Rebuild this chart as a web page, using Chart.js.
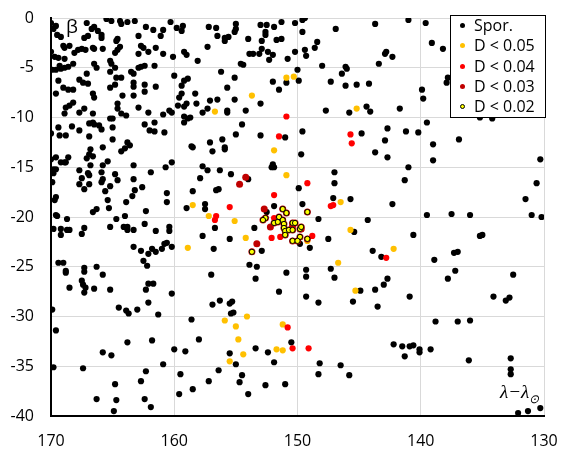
<!DOCTYPE html>
<html>
<head>
<meta charset="utf-8">
<script src="https://cdn.jsdelivr.net/npm/chart.js@4/dist/chart.umd.min.js"></script>
<style>
  html, body { margin: 0; padding: 0; background: #fff; }
  #wrap { position: relative; width: 567px; height: 454px; font-family: 'Open Sans', sans-serif; }
  #chart { position: absolute; left: 0; top: 0; }
  .lbl { position: absolute; color: #000; white-space: nowrap; }
  #legend { position: absolute; left: 450px; top: 15px; width: 94px; height: 101px; border: 1px solid #000; background: #fff; }
  #legend .row { position: absolute; left: 0; height: 20px; line-height: 20px; font-size: 16px; }
  #legend .dot { position: absolute; left: 9px; top: 7px; width: 5px; height: 5px; border-radius: 50%; box-sizing: border-box; }
  #legend .txt { position: absolute; left: 23px; top: -1px; }
</style>
</head>
<body>
<div id="wrap">
  <canvas id="chart" width="567" height="454"></canvas>
  <div class="lbl" style="left:66px;top:13px;font-size:19px;">β</div>
  <div class="lbl" style="left:500px;top:381px;font-size:19px;font-family:'Liberation Serif',serif;font-style:italic;">λ−λ<sub style="font-size:12px;">⊙</sub></div>
  <div id="legend"></div>
</div>
<script>
// 散点数据 [λ−λ⊙, β]
const sporadic = [
  [170.0,-0.5],[169.6,-0.8],[169.8,-1.1],[169.5,-1.7],[169.2,-1.9],[165.5,-0.1],[165.1,-0.3],[164.4,-0.3],[164.3,-0.6],[163.8,-0.4],
  [163.2,-0.3],[162.3,-0.9],[161.7,-1.2],[160.9,-1.2],[161.1,-1.8],[160.3,-0.4],[159.8,-1.0],[159.3,-0.8],[159.4,-1.3],[157.2,-0.9],
  [167.1,-0.5],[166.7,-1.1],[166.5,-0.9],[166.2,-1.3],[165.9,-1.7],[165.9,-2.0],[167.3,-2.0],[167.0,-1.8],[164.6,-2.1],[164.7,-2.3],
  [164.4,-2.9],[164.6,-3.2],[169.0,-2.8],[168.9,-3.0],[168.5,-2.8],[168.1,-3.5],[167.8,-3.2],[167.5,-3.1],[167.2,-3.2],[166.6,-3.0],
  [166.5,-3.1],[165.8,-3.1],[164.8,-3.5],[162.9,-1.8],[162.7,-2.8],[162.5,-3.0],[162.9,-3.6],[162.1,-3.4],[161.5,-3.0],[160.9,-3.6],
  [160.1,-3.9],[159.2,-3.4],[159.0,-3.7],[158.1,-4.3],[157.3,-2.9],[170.0,-3.4],[169.7,-3.9],[169.4,-4.0],[168.9,-4.1],[168.2,-4.6],
  [169.3,-4.8],[168.9,-5.0],[168.6,-4.9],[169.9,-5.2],[169.6,-5.2],[169.2,-5.1],[166.5,-4.6],[166.3,-5.0],[165.2,-4.3],[165.1,-4.6],
  [164.8,-5.0],[165.2,-5.4],[164.7,-6.0],[164.3,-6.0],[163.5,-5.4],[163.3,-5.6],[162.9,-5.0],[162.7,-4.9],[162.4,-4.8],[161.6,-4.8],
  [160.0,-5.8],[167.1,-5.6],[167.7,-6.2],[167.4,-6.5],[167.0,-6.6],[169.4,-6.3],[169.0,-7.0],[168.6,-7.2],[168.2,-7.2],[169.6,-7.6],
  [166.6,-7.6],[166.5,-8.0],[165.2,-7.0],[164.8,-6.7],[164.2,-7.8],[163.3,-6.5],[163.3,-6.9],[163.3,-7.8],[162.4,-6.7],[162.4,-7.4],
  [161.5,-6.9],[159.2,-6.3],[158.9,-6.1],[159.4,-6.8],[159.4,-7.6],[159.6,-8.0],[158.3,-7.6],[157.1,-8.3],[168.2,-8.5],[168.5,-8.8],
  [168.8,-9.0],[168.9,-9.6],[167.7,-9.5],[167.3,-9.1],[166.6,-9.6],[164.6,-8.6],[164.6,-9.1],[164.3,-9.6],[163.9,-9.8],[162.9,-9.0],
  [162.1,-9.5],[160.9,-9.7],[160.4,-9.3],[160.2,-9.5],[159.7,-8.8],[159.2,-8.9],[159.0,-8.6],[158.2,-8.6],[157.3,-9.1],[157.7,-9.5],
  [159.2,-9.9],[158.9,-10.1],[158.7,-10.0],[159.2,-10.5],[169.4,-11.0],[169.3,-11.8],[168.3,-10.9],[167.7,-11.3],[166.9,-10.6],[166.6,-10.5],
  [166.5,-10.7],[166.1,-10.8],[165.9,-11.2],[166.9,-11.9],[168.8,-11.8],[170.0,-11.6],[165.2,-10.1],[165.0,-10.1],[165.0,-11.0],[165.0,-12.2],
  [163.8,-12.5],[163.6,-12.8],[162.4,-10.7],[161.6,-10.5],[162.0,-11.3],[161.6,-11.4],[160.8,-11.5],[158.6,-12.9],[157.1,-12.5],
  [156.6,-1.0],[156.5,-1.8],[155.9,-2.0],[155.9,-2.3],[155.6,-1.9],[155.1,-1.4],[155.0,-1.1],[155.0,-0.6],[154.0,-2.1],[153.9,-3.6],
  [153.6,-3.6],[153.1,-3.6],[153.0,-0.7],[152.9,-2.3],[152.9,-3.1],[152.6,-1.4],[152.6,-1.7],[152.5,-0.7],[152.4,-3.4],[152.3,-4.2],
  [152.0,-3.7],[151.9,-0.9],[151.7,-2.2],[151.3,-0.4],[151.3,-2.1],[150.8,-4.1],[150.2,-3.4],[150.2,-0.5],[149.6,-0.2],[149.4,0.0],
  [149.6,-1.4],[149.4,-3.2],[149.3,-3.8],[148.6,-3.0],[148.4,-2.4],[146.9,-1.1],[143.7,-0.6],[154.6,-4.6],[154.4,-4.7],[156.2,-5.4],
  [155.1,-6.0],[155.7,-7.0],[156.5,-8.2],[155.1,-8.2],[155.7,-9.3],[155.7,-9.5],[154.2,-9.3],[153.0,-8.6],[152.0,-6.4],[151.5,-7.2],
  [150.9,-6.5],[150.0,-5.2],[149.9,-6.3],[148.0,-4.8],[147.3,-6.4],[146.4,-5.6],[146.1,-4.9],[146.0,-5.1],[146.1,-6.8],[145.2,-6.7],
  [144.2,-6.6],[147.7,-9.3],[145.8,-9.5],[144.4,-8.9],[144.1,-9.4],[144.8,-11.6],[154.5,-10.7],[156.1,-12.2],[155.0,-11.7],[153.0,-11.8],
  [151.0,-12.0],[149.6,-11.4],[155.9,-13.0],
  [141.0,-0.2],[139.6,-0.5],[139.1,-2.5],[138.2,-3.1],[142.9,-3.6],[142.8,-3.4],[142.3,-3.9],[143.4,-4.6],[137.8,-6.0],[137.9,-6.5],
  [139.9,-7.2],[139.8,-8.1],[141.7,-9.1],[135.2,-10.0],[134.2,-10.1],[139.5,-10.5],[142.7,-11.1],[141.2,-11.4],[140.2,-11.5],[142.9,-12.3],
  [139.0,-12.7],[136.9,-12.2],
  [170.0,-14.2],[169.6,-14.0],[169.2,-14.5],[168.9,-14.5],[168.8,-14.5],[168.6,-14.0],[167.1,-14.1],[166.9,-13.7],[166.6,-13.9],[166.8,-13.2],
  [165.8,-13.0],[164.3,-13.4],[164.0,-13.1],[166.8,-14.8],[165.4,-14.4],[165.8,-14.8],[169.8,-15.2],[169.6,-15.2],[169.8,-15.6],[169.9,-16.5],
  [167.7,-15.3],[167.5,-16.1],[167.7,-16.7],[167.3,-17.2],[167.0,-15.6],[166.9,-15.8],[166.9,-16.7],[165.9,-15.5],[165.8,-16.2],[165.9,-16.5],
  [165.6,-17.4],[165.2,-16.9],[164.8,-15.7],[164.6,-16.3],[165.4,-18.3],[165.3,-19.1],[166.3,-19.2],[166.6,-19.5],[163.9,-18.5],[163.4,-17.9],
  [163.2,-17.3],[162.6,-17.0],[163.3,-14.8],[163.3,-16.2],[161.9,-15.5],[160.7,-15.0],[160.2,-14.5],[160.6,-17.6],[160.6,-18.5],[162.3,-19.4],
  [164.0,-19.9],[164.7,-20.2],[169.7,-18.3],[169.6,-18.0],[169.6,-19.8],[169.5,-19.9],[168.7,-20.2],[169.8,-21.2],[169.2,-21.2],[169.2,-21.8],
  [168.7,-21.3],[168.5,-21.3],[167.5,-21.7],[167.3,-21.1],[165.2,-21.0],[164.1,-21.0],[163.8,-21.0],[163.8,-21.3],[163.3,-21.3],[162.4,-20.7],
  [161.5,-21.4],[160.4,-21.0],[160.4,-21.4],[163.3,-23.0],[162.7,-23.4],[162.1,-23.7],[161.8,-23.2],[161.5,-23.5],[161.0,-23.2],[160.8,-22.7],
  [160.6,-22.6],[160.2,-23.0],[162.5,-24.4],[162.2,-24.9],[169.4,-24.6],[169.0,-24.6],[168.8,-25.4],[168.8,-25.6],[167.3,-25.1],[167.3,-25.5],
  [166.3,-25.0],[165.8,-25.8],[167.5,-26.4],[158.5,-13.0],[156.9,-13.4],[157.7,-14.9],[157.3,-15.3],[157.9,-16.1],[158.5,-17.4],[159.0,-19.1],
  [157.5,-18.7],[157.5,-19.2],[157.7,-21.9],[156.8,-23.2],[157.0,-25.8],
  [155.9,-13.2],[149.7,-13.7],[143.7,-13.5],[156.3,-15.3],[155.4,-15.7],[154.0,-16.2],[152.0,-14.7],[151.9,-15.0],[152.1,-15.0],[156.6,-17.3],
  [156.4,-17.2],[149.9,-17.1],[147.0,-15.5],[147.0,-16.6],[147.1,-18.1],[145.7,-18.2],[149.6,-18.7],[151.9,-18.9],[152.5,-19.5],[148.3,-20.2],
  [144.3,-20.3],[156.7,-21.1],[153.5,-21.1],[155.5,-22.2],[152.9,-23.4],[149.0,-23.1],[147.5,-22.2],[145.4,-21.5],[143.9,-23.4],[153.9,-24.8],
  [153.3,-25.0],[150.9,-25.6],[149.3,-25.3],[149.3,-26.0],[147.3,-25.2],[147.0,-26.1],[153.4,-26.2],[149.8,-22.7],
  [142.7,-14.0],[139.0,-14.3],[130.3,-14.2],[141.0,-15.0],[141.3,-16.3],[130.6,-16.6],[131.5,-18.2],[142.3,-18.7],[139.5,-19.8],[137.5,-19.7],
  [136.0,-19.8],[131.0,-19.8],[130.2,-20.0],[140.6,-21.8],[135.2,-21.9],[135.0,-21.8],[143.2,-24.0],[138.9,-24.3],[137.3,-23.6],[137.0,-23.5],
  [137.2,-25.4],[132.5,-25.8],[142.7,-26.2],[137.8,-26.2],
  [167.4,-26.8],[167.2,-27.1],[167.3,-27.6],[168.5,-27.1],[166.5,-27.2],[165.2,-27.3],[162.3,-27.3],[162.1,-26.7],[161.7,-26.7],[160.2,-27.7],
  [169.9,-29.3],[164.5,-29.1],[163.9,-29.4],[163.7,-29.7],[163.0,-29.3],[162.1,-28.6],[161.3,-29.8],[156.9,-28.8],[169.6,-31.4],[163.8,-32.6],
  [161.8,-32.4],[165.8,-33.6],[165.1,-33.9],[158.6,-30.3],[158.0,-32.3],[160.0,-33.3],[159.1,-33.5],[169.8,-35.1],[167.4,-35.2],[160.9,-34.8],
  [162.3,-35.5],[162.7,-36.5],[164.8,-36.8],[159.5,-35.8],[157.2,-36.5],[158.5,-37.3],[159.6,-37.8],[166.3,-38.3],[164.7,-38.4],[162.4,-38.3],
  [161.9,-39.1],[164.9,-39.5],
  [156.3,-28.4],[155.5,-28.7],[155.3,-28.5],[155.4,-29.7],[155.2,-29.6],[151.5,-27.5],[149.3,-28.0],[148.3,-28.6],[145.5,-28.5],[144.9,-27.4],
  [143.7,-27.3],[150.5,-32.6],[153.4,-33.2],[152.4,-33.6],[155.5,-33.7],[155.0,-34.8],[156.4,-35.4],[151.9,-34.6],[148.2,-34.7],[146.5,-34.9],
  [148.3,-35.8],[145.8,-35.9],[154.5,-35.9],[154.7,-36.6],[152.6,-36.9],[151.0,-36.8],[154.0,-37.8],
  [143.0,-26.8],[143.5,-29.0],[140.9,-28.0],[134.1,-28.0],[133.1,-28.4],[132.8,-28.1],[138.8,-30.5],[137.0,-30.5],[136.0,-30.4],[142.2,-32.8],
  [141.5,-33.0],[140.9,-33.0],[140.6,-32.9],[141.3,-34.0],[140.1,-33.3],[140.1,-33.6],[139.2,-33.3],[136.1,-34.4],[132.7,-34.2],[132.7,-35.3],
  [132.7,-35.8],[132.1,-39.7],[131.3,-39.5],[130.3,-39.2]
]

const d05 = [
  [156.7,-9.4],[150.9,-6.0],[150.3,-5.9],[153.7,-7.8],[145.2,-9.1],[158.5,-18.8],[157.2,-19.9],[158.9,-23.1],[151.9,-13.3],[150.9,-15.8],
  [146.5,-18.5],[155.1,-20.4],[154.2,-22.1],[145.7,-21.3],[146.7,-24.6],[149.2,-22.4],[142.2,-23.2],[145.3,-27.4],[154.1,-30.0],[155.9,-30.4],
  [155.0,-31.0],[151.2,-30.8],[154.8,-32.3],[151.7,-33.3],[151.2,-33.4],[154.4,-33.8],[155.5,-34.5]
]

const d04 = [
  [150.9,-9.9],[151.5,-11.9],[145.7,-11.7],[145.6,-12.6],[151.9,-17.8],[149.2,-16.6],[155.5,-19.0],[156.6,-19.9],[156.7,-20.3],[147.3,-18.9],
  [147.1,-18.8],[152.1,-22.1],[151.4,-22.0],[148.8,-21.9],[151.9,-20.1],[142.8,-24.1],[150.8,-31.1],[150.4,-33.2],[149.1,-33.2]
]

const d03 = [
  [154.2,-16.0],[154.7,-16.7],[152.7,-19.2],[152.2,-21.0],[153.3,-22.7],[150.4,-20.9],[149.7,-21.2]
]

const d02 = [
  [151.2,-19.2],[150.9,-19.6],[151.5,-20.0],[152.6,-20.1],[152.8,-20.3],[151.9,-20.6],[151.6,-20.5],[151.2,-20.3],[151.1,-20.7],[151.1,-21.1],
  [151.0,-21.4],[151.0,-21.8],[150.7,-21.3],[150.4,-21.3],[150.4,-20.6],[150.2,-20.6],[149.8,-21.2],[149.7,-21.0],[149.2,-19.5],[149.8,-22.0],
  [150.4,-22.4],[150.0,-22.4],[149.2,-22.2],[153.7,-23.5]
]

const seriesNames = ['Spor.', 'D < 0.05', 'D < 0.04', 'D < 0.03', 'D < 0.02']
const xTicks = [170, 160, 150, 140, 130]
const yTicks = [0, -5, -10, -15, -20, -25, -30, -35, -40]

const toPts = arr => arr.map(p => ({ x: p[0], y: p[1] }))

// 样式：依次为 黑 / 橙 / 红 / 暗红 / 黄(黑边)
const styles = [
  { bg: '#000000', border: '#000000', r: 3.1, bw: 0 },
  { bg: '#FFC000', border: '#FFC000', r: 3.1, bw: 0 },
  { bg: '#FF0000', border: '#FF0000', r: 3.1, bw: 0 },
  { bg: '#C00000', border: '#C00000', r: 3.5, bw: 0 },
  { bg: '#FFFF00', border: '#000000', r: 2.6, bw: 1 }
]
const seriesData = [sporadic, d05, d04, d03.concat(d02), d02]

const datasets = seriesData.map((arr, i) => ({
  label: seriesNames[i],
  data: toPts(arr),
  backgroundColor: styles[i].bg,
  borderColor: styles[i].border,
  borderWidth: styles[i].bw,
  pointRadius: styles[i].r,
  pointHoverRadius: styles[i].r,
  order: 5 - i
}))

const tickFont = { family: 'Open Sans', size: 16 }

new Chart(document.getElementById('chart'), {
  type: 'scatter',
  data: { datasets: datasets },
  options: {
    responsive: false,
    animation: false,
    devicePixelRatio: 1,
    layout: { padding: { top: 18, right: 23, left: 0, bottom: 0 } },
    plugins: {
      legend: { display: false },
      tooltip: { enabled: false }
    },
    scales: {
      x: {
        type: 'linear',
        reverse: true,
        min: 130,
        max: 170,
        afterBuildTicks: s => { s.ticks = xTicks.map(v => ({ value: v })) },
        ticks: { color: '#000', font: tickFont, padding: 16, maxRotation: 0 },
        grid: { color: '#d9d9d9', lineWidth: 1, drawTicks: false },
        border: { color: '#000', width: 2 },
        // 固定轴高度，去掉标签溢出的额外边距
        afterFit: s => { s.height = 38; s.paddingLeft = 0; s.paddingRight = 0 }
      },
      y: {
        type: 'linear',
        min: -40,
        max: 0,
        afterBuildTicks: s => { s.ticks = yTicks.map(v => ({ value: v })) },
        ticks: { color: '#000', font: tickFont, padding: 17 },
        grid: { color: '#d9d9d9', lineWidth: 1, drawTicks: false },
        border: { color: '#000', width: 2 },
        afterFit: s => { s.width = 51; s.paddingTop = 0; s.paddingBottom = 0 }
      }
    }
  }
})

// 图例
const legend = document.getElementById('legend')
seriesNames.forEach((name, i) => {
  const row = document.createElement('div')
  row.className = 'row'
  row.style.top = (i * 20.3) + 'px'
  row.style.width = '94px'
  const dot = document.createElement('span')
  dot.className = 'dot'
  dot.style.background = styles[i].bg
  if (styles[i].bw) dot.style.border = '1px solid #000'
  const txt = document.createElement('span')
  txt.className = 'txt'
  txt.textContent = name
  row.appendChild(dot)
  row.appendChild(txt)
  legend.appendChild(row)
})
</script>
</body>
</html>
